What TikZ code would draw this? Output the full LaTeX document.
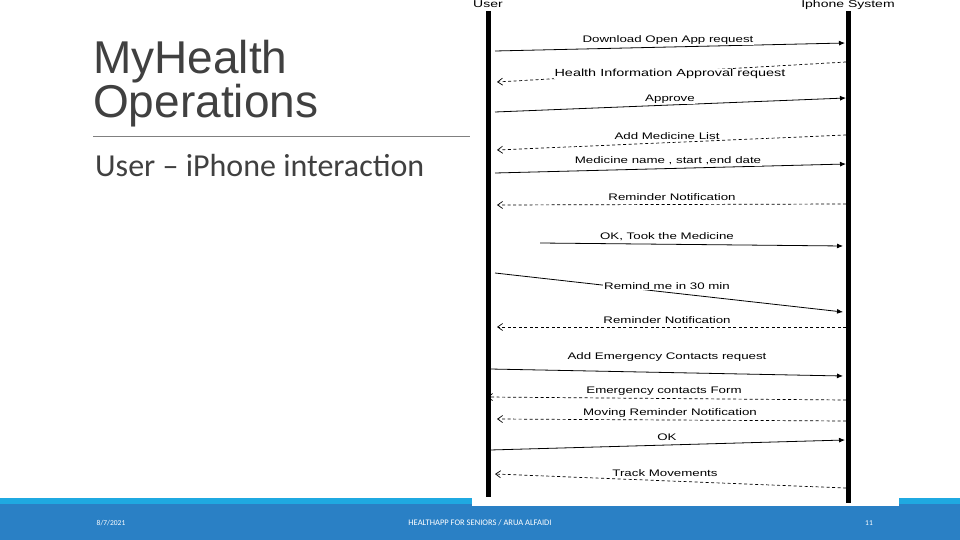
\documentclass[tikz,border=0pt]{standalone}
\usepackage{fontspec}
\newfontfamily\arialf{Liberation Sans}
\newfontfamily\calib{Carlito}
\usetikzlibrary{arrows.meta}
\definecolor{footblue}{HTML}{2A80C5}
\definecolor{footlight}{HTML}{1FA9E1}
\definecolor{titlegray}{HTML}{404040}
\begin{document}
\begin{tikzpicture}[x=1pt, y=-1pt,
    lifeline/.style={line width=5pt},
    callmsg/.style={line width=0.8pt, -{Latex[length=6pt,width=5pt]}},
    backmsg/.style={line width=0.7pt, dashed, dash pattern=on 3pt off 2.5pt, -{Straight Barb[length=5pt,width=7pt]}},
    msglbl/.style={font=\arialf\fontsize{9.5}{10}\selectfont, xscale=1.4, fill=white, inner sep=0.5pt},
    actor/.style={font=\arialf\fontsize{10}{11}\selectfont, xscale=1.4, anchor=base},
    foottext/.style={font=\calib\fontsize{7.5}{8}\selectfont, text=white}]
\useasboundingbox (0,0) rectangle (960,540);
\fill[white] (0,0) rectangle (960,540);
\fill[footlight] (0,498) rectangle (960,505);
\fill[footblue] (0,504) rectangle (960,540);
\fill[white] (472,0) rectangle (899,506);
\node[anchor=base west, inner sep=0, font=\arialf\fontsize{46}{44}\selectfont, text=titlegray] (title1) at (93,74) {MyHealth};
\node[anchor=base west, inner sep=0, font=\arialf\fontsize{46}{44}\selectfont, text=titlegray] (title2) at (93,118) {Operations};
\draw[gray, line width=0.8pt] (93,136) -- (470,136);
\node[anchor=base west, inner sep=0, font=\calib\fontsize{32}{34}\selectfont, text=titlegray] (subtitle) at (95,176.5) {User – iPhone interaction};
\node[foottext] (date) at (111,523) {8/7/2021};
\node[foottext, font=\calib\fontsize{8.5}{9}\selectfont] (footer) at (480,523) {HEALTHAPP FOR SENIORS / ARUA ALFAIDI};
\node[foottext] (page) at (869,523) {11};
\node[actor] (user) at (488,8) {User};
\node[actor] (phone) at (848,8) {Iphone System};
\draw[lifeline] (488,11) -- (488,497);
\draw[lifeline] (848,11) -- (848,503);
\coordinate (u1) at (495,51);  \coordinate (s1) at (845,43);
\coordinate (u2) at (497,82);  \coordinate (s2) at (846,62);
\coordinate (u3) at (495,112); \coordinate (s3) at (846,98);
\coordinate (u4) at (497,150); \coordinate (s4) at (846,135);
\coordinate (u5) at (495,173); \coordinate (s5) at (846,164);
\coordinate (u6) at (497,205); \coordinate (s6) at (846,204);
\coordinate (u7) at (540,243); \coordinate (s7) at (843,246);
\coordinate (u8) at (495,273); \coordinate (s8) at (843,312);
\coordinate (u9) at (497,327); \coordinate (s9) at (846,327);
\coordinate (u10) at (490,369); \coordinate (s10) at (843,376);
\coordinate (u11) at (487,397); \coordinate (s11) at (846,400);
\coordinate (u12) at (497,419); \coordinate (s12) at (846,421);
\coordinate (u13) at (490,450); \coordinate (s13) at (845,440);
\coordinate (u14) at (495,474); \coordinate (s14) at (846,488);
\draw[callmsg] (u1) -- (s1);
\draw[backmsg] (s2) -- (u2);
\draw[callmsg] (u3) -- (s3);
\draw[backmsg] (s4) -- (u4);
\draw[callmsg] (u5) -- (s5);
\draw[backmsg] (s6) -- (u6);
\draw[callmsg] (u7) -- (s7);
\draw[callmsg] (u8) -- (s8);
\draw[backmsg] (s9) -- (u9);
\draw[callmsg] (u10) -- (s10);
\draw[backmsg] (s11) -- (u11);
\draw[backmsg] (s12) -- (u12);
\draw[callmsg] (u13) -- (s13);
\draw[backmsg] (s14) -- (u14);
\node[msglbl] (m1) at (668,40) {Download Open App request};
\node[msglbl, font=\arialf\fontsize{10.3}{11}\selectfont] (m2) at (670,74) {Health Information Approval request};
\node[msglbl] (m3) at (670,99) {Approve};
\node[msglbl] (m4) at (667,136) {Add Medicine List};
\node[msglbl] (m5) at (668,161) {Medicine name , start ,end date};
\node[msglbl] (m6) at (672,197) {Reminder Notification};
\node[msglbl] (m7) at (667,237) {OK, Took the Medicine};
\node[msglbl] (m8) at (667,286) {Remind me in 30 min};
\node[msglbl] (m9) at (667,320) {Reminder Notification};
\node[msglbl] (m10) at (667,357) {Add Emergency Contacts request};
\node[msglbl] (m11) at (664,391) {Emergency contacts Form};
\node[msglbl] (m12) at (670,413) {Moving Reminder Notification};
\node[msglbl] (m13) at (667,437) {OK};
\node[msglbl] (m14) at (665,473) {Track Movements};
\end{tikzpicture}
\end{document}
